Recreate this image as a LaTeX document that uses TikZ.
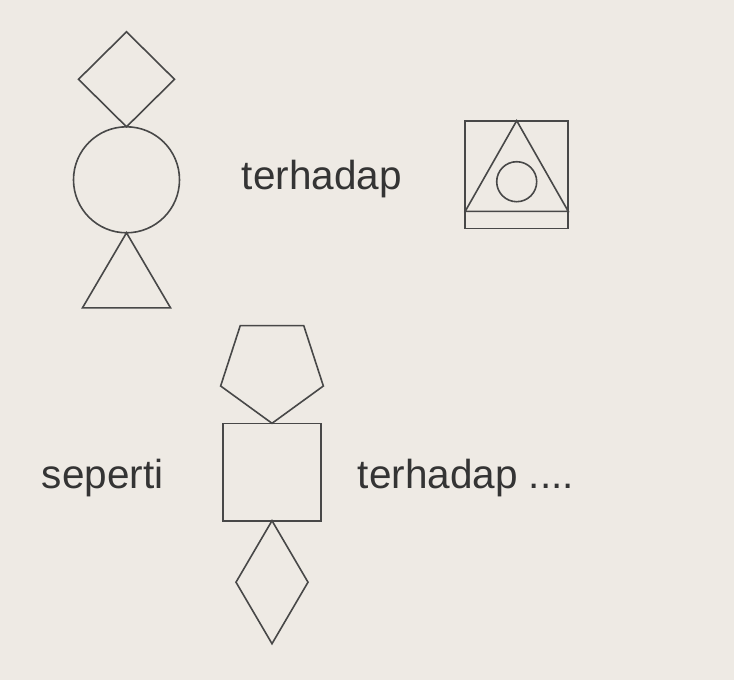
\documentclass[tikz,border=0pt]{standalone}
\usepackage{fontspec}
\setmainfont{Liberation Sans}
\usepackage{xcolor}
\usetikzlibrary{shapes.geometric, positioning}
\definecolor{paper}{RGB}{238,234,228}
\definecolor{ink}{RGB}{72,72,72}
\definecolor{txt}{RGB}{52,52,52}

\begin{document}
\begin{tikzpicture}[x=1pt,y=-1pt,
    shp/.style={draw=ink,line width=1.6pt,inner sep=0pt,outer sep=0pt},
    word/.style={text=txt,font=\fontsize{40.5}{48}\selectfont,inner sep=0pt,anchor=base west}]
    \fill[paper] (0,0) rectangle (734,680);
    \useasboundingbox (0,0) rectangle (734,680);

    \node[shp,diamond,minimum width=96pt,minimum height=95pt] (d1) at (126.5,79.3) {};
    \node[shp,circle,minimum size=106pt,below=0pt of d1] (c1) {};
    \draw[shp] (c1.south) -- ++(-44,75) -- ++(88,0) -- cycle;

    \node[word] (w1) at (241.7,189) {terhadap};

    \node[shp,rectangle,minimum width=103pt,minimum height=107.6pt] (sq1) at (516.7,174.5) {};
    \path (sq1.south) ++(0,-17) coordinate (b1);
    \draw[shp] (sq1.north) -- (b1 -| sq1.west) -- (b1 -| sq1.east) -- cycle;
    \node[shp,circle,minimum size=40pt] (c2) at (516.7,181.7) {};

    \node[shp,regular polygon,regular polygon sides=5,regular polygon rotate=180,
          minimum size=108pt] (p1) at (272,369.3) {};
    \node[shp,rectangle,minimum width=98pt,minimum height=97.4pt,below=0pt of p1] (sq2) {};
    \node[shp,diamond,minimum width=72pt,minimum height=123pt,below=0pt of sq2] (d2) {};

    \node[word] (w2) at (41.7,488) {seperti};
    \node[word] (w3) at (357.7,488) {terhadap ....};
\end{tikzpicture}
\end{document}
